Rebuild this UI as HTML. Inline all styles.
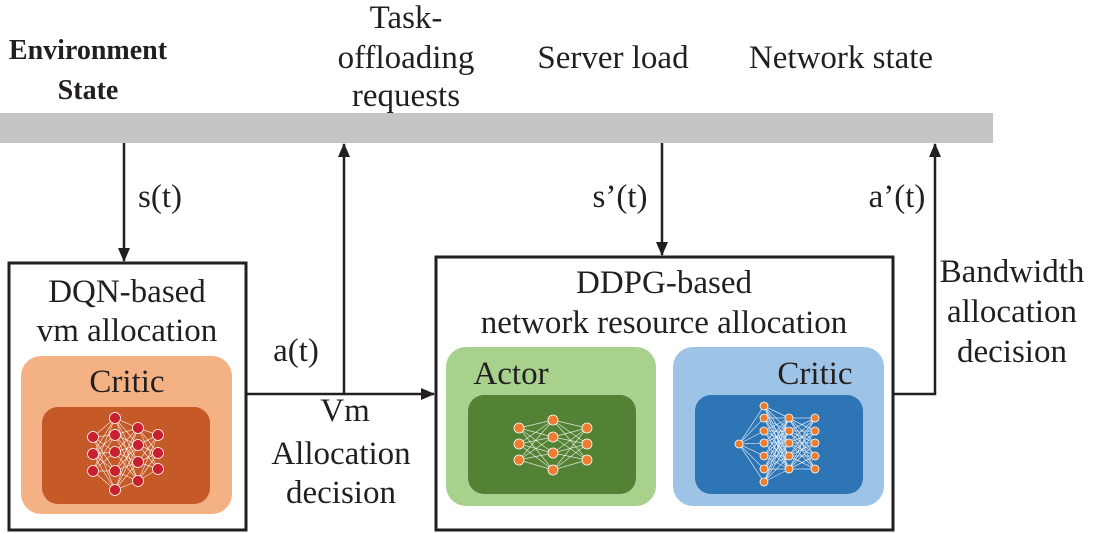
<!DOCTYPE html>
<html><head><meta charset="utf-8"><style>
html,body{margin:0;padding:0;background:#fff;width:1100px;height:534px;overflow:hidden}
svg text{font-family:"Liberation Serif",serif;fill:#231f20}
</style></head><body>
<svg id="s" width="1100" height="534" viewBox="0 0 1100 534" xmlns="http://www.w3.org/2000/svg">
<defs>
<marker id="ah2" markerWidth="14" markerHeight="12" refX="13" refY="6" orient="auto" markerUnits="userSpaceOnUse"><path d="M0,0 L14,6 L0,12 Z" fill="#231f20"/></marker></defs>
<rect x="0" y="113" width="993" height="30" fill="#c4c5c7"/>
<g font-size="33">
<text x="88" y="59" text-anchor="middle" font-weight="bold" font-size="28">Environment</text>
<text x="88" y="99" text-anchor="middle" font-weight="bold" font-size="28">State</text>
<text x="406" y="28" text-anchor="middle">Task-</text>
<text x="406" y="68" text-anchor="middle">offloading</text>
<text x="406" y="106" text-anchor="middle">requests</text>
<text x="613" y="68" text-anchor="middle">Server load</text>
<text x="841" y="68" text-anchor="middle">Network state</text>
<text x="160" y="207" text-anchor="middle">s(t)</text>
<text x="620" y="207" text-anchor="middle">s’(t)</text>
<text x="897" y="207" text-anchor="middle">a’(t)</text>
<text x="296" y="361" text-anchor="middle">a(t)</text>
<text x="345" y="421" text-anchor="middle">Vm</text>
<text x="341" y="464" text-anchor="middle">Allocation</text>
<text x="341" y="503" text-anchor="middle">decision</text>
<text x="1012" y="282" text-anchor="middle">Bandwidth</text>
<text x="1012" y="322" text-anchor="middle">allocation</text>
<text x="1012" y="362" text-anchor="middle">decision</text>
</g>
<g stroke="#231f20" stroke-width="2.5" fill="none">
<line x1="124" y1="143" x2="124" y2="261" marker-end="url(#ah2)"/>
<polyline points="246,394 434,394" marker-end="url(#ah2)"/>
<line x1="344" y1="394" x2="344" y2="144" marker-end="url(#ah2)"/>
<line x1="662" y1="143" x2="662" y2="255" marker-end="url(#ah2)"/>
<polyline points="893,394 935,394 935,144" marker-end="url(#ah2)"/>
<rect x="9" y="263" width="237" height="267" stroke-width="3"/>
<rect x="436" y="257" width="457" height="273" stroke-width="3"/>
</g>
<rect x="21" y="356" width="211" height="158" rx="20" fill="#f4b183"/>
<rect x="42" y="407" width="168" height="97" rx="16" fill="#c55a28"/>
<rect x="446" y="347" width="210" height="159" rx="20" fill="#a9d18e"/>
<rect x="468" y="395" width="168" height="99" rx="16" fill="#548235"/>
<rect x="673" y="347" width="211" height="159" rx="20" fill="#9dc3e6"/>
<rect x="695" y="395" width="168" height="99" rx="16" fill="#2e75b6"/>
<g font-size="33">
<text x="127" y="302" text-anchor="middle">DQN-based</text>
<text x="127" y="341" text-anchor="middle">vm allocation</text>
<text x="664" y="293" text-anchor="middle">DDPG-based</text>
<text x="664" y="333" text-anchor="middle">network resource allocation</text>
<text x="127" y="392" text-anchor="middle">Critic</text>
<text x="511" y="384" text-anchor="middle">Actor</text>
<text x="815" y="384" text-anchor="middle">Critic</text>
</g>
<g id="nets"></g>
</svg>
<script>
function net(layers,r,fill){var g=document.getElementById('nets'),h='';
for(var i=0;i<layers.length-1;i++){var a=layers[i],b=layers[i+1];
a.ys.forEach(function(y1){b.ys.forEach(function(y2){h+='<line x1="'+a.x+'" y1="'+y1+'" x2="'+b.x+'" y2="'+y2+'" stroke="#ffffff" stroke-opacity="0.8" stroke-width="0.7"/>';});});}
layers.forEach(function(l){l.ys.forEach(function(y){h+='<circle cx="'+l.x+'" cy="'+y+'" r="'+r+'" fill="'+fill+'" stroke="#fff" stroke-width="0.8"/>';});});
g.innerHTML+=h;}
net([{x:93,ys:[437,454,471]},{x:115,ys:[418,435,452,471,490]},{x:138,ys:[428,445,462,481]},{x:158,ys:[435,453,469]}],5.5,'#c8202f');
net([{x:519,ys:[428,444,460]},{x:553,ys:[420,437,453,470]},{x:587,ys:[428,444,460]}],5,'#ed7d31');
net([{x:739,ys:[444]},{x:764,ys:[406,418,431,443,456,469,482]},{x:789,ys:[418,431,443,456,469]},{x:815,ys:[418,431,443,456,469]}],4,'#ed7d31');
</script>
</body></html>
